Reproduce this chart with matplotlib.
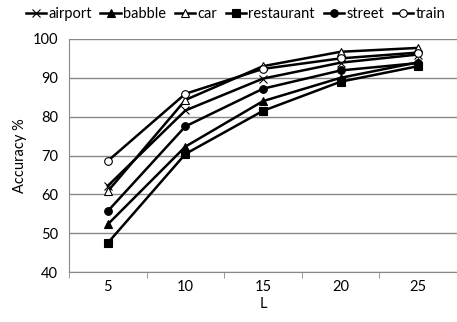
import numpy as np
import matplotlib
matplotlib.use('Agg')
import matplotlib.pyplot as plt

plt.rcParams['font.family'] = ['Lato', 'DejaVu Sans']

L = [5, 10, 15, 20, 25]
airport = [62.2, 81.6, 89.8, 93.9, 96.0]
babble = [52.3, 72.3, 84.0, 90.0, 94.0]
car = [60.8, 84.3, 93.0, 96.7, 97.7]
restaurant = [47.5, 70.4, 81.5, 89.0, 93.0]
street = [55.7, 77.5, 87.2, 91.9, 93.8]
train = [68.6, 85.9, 92.3, 95.0, 96.5]

series = [
    ('airport', airport, 'x', 'black'),
    ('babble', babble, '^', 'black'),
    ('car', car, '^', 'white'),
    ('restaurant', restaurant, 's', 'black'),
    ('street', street, 'o', 'black'),
    ('train', train, 'o', 'white'),
]

fig = plt.figure(figsize=(4.57, 3.22), dpi=100)
ax = fig.add_axes([0.151, 0.155, 0.849, 0.724])

x = np.arange(len(L))
for name, vals, mk, fc in series:
    ax.plot(x, vals, color='black', linewidth=1.8, marker=mk, markersize=5.5,
            markerfacecolor=fc, markeredgecolor='black', markeredgewidth=0.8,
            label=name)

ax.set_xlim(-0.5, len(L) - 0.5)
ax.set_ylim(40, 100)
ax.set_yticks(range(40, 101, 10))
ax.set_xticks(x)
ax.set_xticklabels([str(v) for v in L])
ax.set_xticks(np.arange(-0.5, len(L), 1), minor=True)
ax.tick_params(axis='x', which='major', length=0, labelsize=10.5, pad=6)
ax.tick_params(axis='x', which='minor', length=4, color='#888888')
ax.tick_params(axis='y', length=0, labelsize=10.5, pad=8)
ax.yaxis.grid(True, color='#888888', linewidth=1)
ax.set_axisbelow(True)
for s in ['top', 'right']:
    ax.spines[s].set_visible(False)
ax.spines['left'].set_color('#888888')
ax.spines['bottom'].set_color('#888888')
ax.set_xlabel('L', fontsize=10.5, labelpad=2)
ax.set_ylabel('Accuracy %', fontsize=10.5, labelpad=4)

fig.legend(loc='center', bbox_to_anchor=(0.515, 0.955), ncol=6, frameon=False,
           fontsize=10.5, handlelength=1.4, handletextpad=0.15, columnspacing=0.6,
           borderaxespad=0, borderpad=0)

fig.savefig('out.png', dpi=100)
